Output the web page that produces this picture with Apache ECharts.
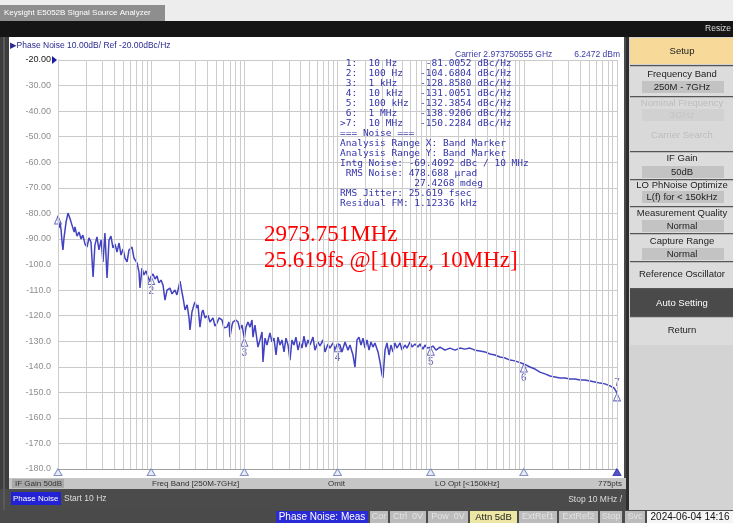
<!DOCTYPE html>
<html><head><meta charset="utf-8">
<script src="https://cdn.jsdelivr.net/npm/echarts@6/dist/echarts.min.js"></script>
<style>html,body{margin:0;padding:0;background:#fff}#c{width:733px;height:523px}</style>
</head><body><div id="c"></div><script>
// ---- data ----
const traceFreq=[10,10.25,10.5,10.8,11.0,11.3,11.6,12.2,12.8,13.4,
14.1,14.9,15.2,16.0,16.8,17.7,18.5,19.5,20.5,21.5,
22.6,23.8,24.9,26.2,27.5,29.0,30.4,31.9,33.6,35.3,
37.0,38.9,40.9,43.0,45.2,47.5,49.9,52.4,55.1,57.8,
62.3,65.4,70.5,74.0,75.9,79.7,83.7,88.0,92.5,97.1,
100,104.7,110,115.5,121,127.6,134,140.7,148,159,
167.5,180,189,204,214,220,231,243,255,261,
274,288,295,310,318,334,351,360,378,407,
428,461,484,509,535,576,605,651,684,701,
738,755,813,855,898,944,1000,1042,1094,1150,
1208,1238,1300,1402,1472,1549,1585,1667,1750,1884,
1980,2080,2188,2297,2415,2535,2667,2800,2944,3090,
3246,3412,3581,3767,3954,4159,4365,4592,4820,5070,
5458,5728,6180,6486,6982,7345,7907,8300,8951,9397,
10000,10640,11170,12030,12970,13610,14660,15400,16190,17000,
17870,18790,19730,20750,21780,22870,24040,25240,27220,28580,
30060,30780,32360,33960,35730,37500,39450,41400,43450,46880,
49200,52970,55720,59980,63100,67920,73110,76770,82760,86900,
91410,100000,106000,114000,126000,142500,161100,182400,206500,233500,
264200,299100,338300,383100,433600,490000,554600,627900,709800,803600,
1000000,1164000,1318000,1490000,1687000,1910000,2158000,2443000,2767000,3126000,
3540000,4009000,4529000,5129000,5808000,6561000,7430000,8414000,9290000,10000000];
const traceVal=[-81.0,-85.7,-83.4,-86.5,-90.4,-94.3,-89.6,-83.4,-79.9,-81.8,
-84.5,-87.3,-85.3,-88.9,-87.3,-90.0,-88.5,-92.0,-93.2,-89.6,
-91.2,-104.9,-92.4,-89.2,-94.3,-90.4,-99.0,-87.7,-105.3,-90.4,
-88.9,-93.5,-92.0,-95.1,-91.6,-96.3,-93.9,-97.5,-99.0,-94.3,
-93.2,-97.5,-99.4,-102.9,-109.2,-101.4,-104.1,-102.5,-104.9,-106.8,
-104.7,-103.7,-105.7,-104.5,-107.2,-106.1,-108.0,-113.9,-110.0,-109.2,
-111.5,-110.0,-111.9,-106.5,-110.8,-113.1,-117.8,-115.8,-120.9,-125.6,
-118.6,-115.8,-114.7,-117.0,-115.8,-124.5,-118.6,-117.8,-120.9,-119.8,
-122.5,-120.9,-124.1,-122.9,-120.9,-121.7,-124.8,-124.5,-122.5,-128.4,
-123.7,-122.5,-121.7,-122.5,-125.6,-123.7,-128.9,-124.5,-122.5,-124.5,
-121.7,-128.4,-123.7,-132.3,-129.5,-126.4,-138.1,-128.8,-131.5,-126.8,
-130.3,-128.8,-135.4,-128.4,-131.5,-129.5,-134.2,-128.8,-131.5,-137.4,
-129.5,-131.5,-128.4,-133.5,-130.3,-132.7,-128.0,-132.3,-129.5,-131.5,
-128.4,-133.5,-130.3,-131.9,-129.5,-134.2,-131.1,-132.7,-130.7,-133.5,
-131.0,-131.5,-134.2,-130.3,-133.5,-131.5,-135.4,-140.1,-129.5,-128.4,
-131.5,-128.8,-132.7,-129.5,-133.5,-130.3,-132.3,-130.7,-134.2,-138.1,
-143.2,-144.4,-133.5,-130.7,-135.4,-131.5,-134.2,-130.7,-132.7,-130.7,
-133.5,-131.5,-132.7,-130.3,-132.3,-131.1,-132.3,-131.1,-133.1,-131.5,
-132.7,-132.4,-131.9,-133.5,-132.3,-133.5,-132.7,-133.5,-132.7,-133.1,
-132.7,-133.5,-133.8,-134.2,-135.0,-135.4,-136.2,-136.6,-137.4,-137.7,
-138.9,-140.1,-140.9,-142.1,-142.8,-143.6,-144.0,-144.4,-144.4,-144.8,
-144.8,-145.2,-145.2,-145.6,-146.0,-146.4,-146.7,-147.5,-148.3,-150.2];
const markerFreq=[10,100,1000,10000,100000,1000000,10000000];
const markerVal=[-81.0052,-104.6804,-128.8580,-131.0051,-132.3854,-138.9206,-150.2284];
const markerName=['1','2','3','4','5','6','7'];
const bandMarkerFreq=[10,100,1000,10000,100000,1000000,10000000];
const yMin=-180, yMax=-20, yStep=10;
const xMin=10, xMax=10000000;
const markerTable=[
' 1:  10 Hz     -81.0052 dBc/Hz',
' 2:  100 Hz   -104.6804 dBc/Hz',
' 3:  1 kHz    -128.8580 dBc/Hz',
' 4:  10 kHz   -131.0051 dBc/Hz',
' 5:  100 kHz  -132.3854 dBc/Hz',
' 6:  1 MHz    -138.9206 dBc/Hz',
'>7:  10 MHz   -150.2284 dBc/Hz',
'=== Noise ===',
'Analysis Range X: Band Marker',
'Analysis Range Y: Band Marker',
'Intg Noise: -69.4092 dBc / 10 MHz',
' RMS Noise: 478.688 \u00b5rad',
'             27.4268 mdeg',
'RMS Jitter: 25.619 fsec',
'Residual FM: 1.12336 kHz'];
const annotation=['2973.751MHz','25.619fs @[10Hz, 10MHz]'];

// vertical grid frequencies (1..9 per decade)
const gridFreqs=[];
for(let d=10; d<xMax; d*=10){ for(let k=1;k<=9;k++) gridFreqs.push(d*k); }
gridFreqs.push(xMax);

// ---- chrome ----
const SANS='"Liberation Sans", Arial, "DejaVu Sans", sans-serif';
const G=[];
function R(x,y,w,h,fill,z){G.push({type:'rect',silent:true,z:(z===undefined?-10:z),shape:{x:x,y:y,width:w,height:h},style:{fill:fill}});}
function T(x,y,text,size,color,align,family,weight){G.push({type:'text',silent:true,z:50,x:x,y:y,style:{text:text,fill:color,font:(weight||'normal')+' '+size+'px '+(family||SANS),align:align||'left',verticalAlign:'middle'}});}

// title bar
R(0,0,733,21,'#ededed');
R(0,5,165,16,'#8e8e8e',-9);
T(4,13,'Keysight E5052B Signal Source Analyzer',8,'#ffffff');
R(0,21,733,16,'#151515');
T(731,29,'Resize',8.5,'#dddddd','right');
// left strip
R(0,37,9,473,'#3d3d3d');
R(3,37,2,473,'#5a5a5a',-9);
// graph panel
R(9,37,616,441,'#ffffff');
R(624,37,2,441,'#4a4a4a',-9);
T(10,46,'\u25B6Phase Noise 10.00dB/ Ref -20.00dBc/Hz',8.5,'#2a2a90');
T(455,55,'Carrier 2.973750555 GHz',8.5,'#3a3aa8');
T(620,55,'6.2472 dBm',8.5,'#3a3aa8','right');
G.push({type:'polygon',silent:true,z:50,shape:{points:[[52,56],[52,64],[57,60]]},style:{fill:'#1c1ca0'}});
markerTable.forEach(function(s,i){T(340,64+i*10,s,9.5,'#3434aa','left','"DejaVu Sans Mono", monospace');});
T(264,235,annotation[0],23,'#ff0000','left','"Liberation Serif", "Times New Roman", serif');
T(264,261,annotation[1],23,'#ff0000','left','"Liberation Serif", "Times New Roman", serif');

// bottom info bar
R(9,478,617,11,'#c6c6c6');
R(12,479,52,9,'#a9a9a9',-9);
T(15,484,'IF Gain 50dB',8,'#333333');
T(152,484,'Freq Band [250M-7GHz]',8,'#333333');
T(328,484,'Omit',8,'#333333');
T(435,484,'LO Opt [<150kHz]',8,'#333333');
T(622,484,'775pts',8,'#333333','right');
R(0,489,626,21,'#4b4b4b');
R(11,492,50,13,'#2222d4',-9);
T(13,498.5,'Phase Noise',8,'#ffffff');
T(64,498.5,'Start 10 Hz',8.5,'#dddddd');
T(622,500,'Stop 10 MHz /',8.5,'#dddddd','right');

// status bar
R(0,510,733,13,'#4a4a4a');
R(276,511,92,12,'#2a2ad6',-9); T(322,517,'Phase Noise: Meas',10,'#ffffff','center');
const stat=[['Cor',370,18],['Ctrl  0V',390,36],['Pow  0V',428,40],['ExtRef1',519,38],['ExtRef2',559,39],['Stop',600,22],['Svc',625,20]];
stat.forEach(function(s){R(s[1],511,s[2],12,'#bcbcbc',-9);T(s[1]+s[2]/2,517,s[0],9,'#e4e4e4','center');});
R(470,511,47,12,'#eee6a4',-9); T(493.5,517,'Attn 5dB',9.5,'#222222','center');
R(647,511,86,12,'#f5f5f5',-9); T(690,517,'2024-06-04 14:16',10,'#111111','center');

// right softkey panel
R(626,37,107,473,'#d3d3d3');
R(626,37,3,473,'#2e2e2e',-9);
R(630,38,103,26,'#f7d99a',-9); T(682,51,'Setup',9.5,'#222222','center');
const keys=[
 {y:65,h:31,t:'Frequency Band',ty:74,v:'250M - 7GHz',vy:87},
 {y:96,h:28,t:'Nominal Frequency',ty:103,v:'3GHz',vy:115,dis:true},
 {y:124,h:27,t:'Carrier Search',ty:135,dis:true},
 {y:151,h:28,t:'IF Gain',ty:158,v:'50dB',vy:172},
 {y:179,h:27,t:'LO PhNoise Optimize',ty:185,v:'L(f) for < 150kHz',vy:197},
 {y:206,h:27,t:'Measurement Quality',ty:213,v:'Normal',vy:226},
 {y:233,h:28,t:'Capture Range',ty:241,v:'Normal',vy:254},
 {y:261,h:27,t:'Reference Oscillator',ty:274},
 {y:288,h:28,t:'Auto Setting',ty:303,dark:true},
 {y:316,h:29,t:'Return',ty:330}];
keys.forEach(function(k){
  R(630,k.y,103,k.h,k.dark?'#4a4a4a':(k.dis?'#d9d9d9':'#dcdcdc'),-9);
  if(!(k.dis && k.y===124)) R(630,k.y,103,1.2,'#555555',-8);
  T(682,k.ty,k.t,9.5,k.dark?'#ffffff':(k.dis?'#bdbdbd':'#222222'),'center');
  if(k.v){R(642,k.vy-6,82,12,k.dis?'#d1d1d1':'#c3c3c3',-8);T(682,k.vy,k.v,9.5,k.dis?'#c4c4c4':'#222222','center');}
});

// ---- chart ----
const chart=echarts.init(document.getElementById('c'),null,{renderer:'canvas',width:733,height:523});
const option={
  animation:false,
  backgroundColor:'#ffffff',
  graphic:{elements:G},
  grid:{left:58,top:60,width:559,height:409,containLabel:false},
  xAxis:{type:'log',logBase:10,min:xMin,max:xMax,
    axisLabel:{show:false},axisTick:{show:false},splitLine:{show:false},minorSplitLine:{show:false},
    axisLine:{show:true,onZero:false,lineStyle:{color:'#a0a0a0',width:1}}},
  yAxis:{type:'value',min:yMin,max:yMax,interval:yStep,
    axisLine:{show:true,onZero:false,lineStyle:{color:'#a0a0a0',width:1}},
    axisTick:{show:false},
    splitLine:{show:true,lineStyle:{color:'#cacaca',width:1}},
    axisLabel:{margin:7,fontSize:9,color:'#8e8e8e',fontFamily:SANS,
      formatter:function(v){ if(v===yMax) return '{top|'+v.toFixed(2)+'}'; return v>-100? v.toFixed(2) : v.toFixed(1); },
      rich:{top:{color:'#1a1a1a',fontSize:9,fontFamily:SANS}}}},
  series:[
    {name:'grid',type:'line',data:[[xMin,yMin]],showSymbol:false,symbol:'none',lineStyle:{opacity:0},z:1,silent:true,
     markLine:{silent:true,symbol:['none','none'],label:{show:false},animation:false,
       lineStyle:{color:'#cdcdcd',width:1,type:'solid'},emphasis:{disabled:true},
       data:gridFreqs.map(function(f){return {xAxis:f};})}},
    {name:'Phase Noise',type:'line',data:traceFreq.map(function(f,i){return [f,traceVal[i]];}),
     showSymbol:false,symbol:'none',lineStyle:{color:'#4343c2',width:1.5},z:3},
    {name:'markers',type:'scatter',z:4,symbol:'triangle',symbolSize:[7,8],symbolOffset:[0,4],
     itemStyle:{color:'rgba(255,255,255,0.5)',borderColor:'#4a4ab4',borderWidth:1},
     label:{show:true,position:'bottom',distance:1,color:'#3a3aa8',fontSize:10,fontFamily:SANS,formatter:function(p){return p.name;}},
     data:markerFreq.map(function(f,i){
       const d={name:markerName[i],value:[f,markerVal[i]]};
       if(i===0) d.label={show:false};
       if(i===markerFreq.length-1) d.label={show:true,position:'top',distance:4};
       return d;})},
    {name:'band',type:'scatter',z:4,symbol:'triangle',symbolSize:[8,7],symbolOffset:[0,3],
     itemStyle:{color:'#e4e8f6',borderColor:'#6c78b8',borderWidth:1},
     data:bandMarkerFreq.map(function(f,i){
       const d={value:[f,yMin]};
       if(i===bandMarkerFreq.length-1) d.itemStyle={color:'#2a2ab4',borderColor:'#2a2ab4'};
       return d;})}
  ]
};
chart.setOption(option);
</script></body></html>
